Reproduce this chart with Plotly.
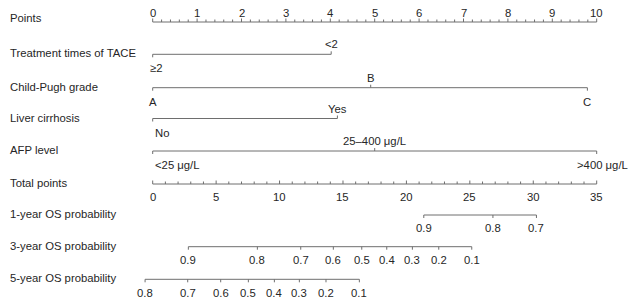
import plotly.graph_objects as go

# ---------------- data ----------------
points_labels = [0, 1, 2, 3, 4, 5, 6, 7, 8, 9, 10]
points_minor_step = 0.2

tace_levels = ["≥2", "<2"]
tace_points = [0.0, 4.02]

child_levels = ["A", "B", "C"]
child_points = [0.0, 4.91, 9.79]

cirrhosis_levels = ["No", "Yes"]
cirrhosis_points = [0.0, 4.16]

afp_levels = ["<25 μg/L", "25–400 μg/L", ">400 μg/L"]
afp_points = [0.0, 5.0, 10.0]

total_labels = [0, 5, 10, 15, 20, 25, 30, 35]
total_minor_step = 1

os1_probs = ["0.9", "0.8", "0.7"]
os1_total = [21.37, 26.82, 30.25]

os3_probs = ["0.9", "0.8", "0.7", "0.6", "0.5", "0.4", "0.3", "0.2", "0.1"]
os3_total = [2.81, 8.25, 11.67, 14.24, 16.48, 18.45, 20.47, 22.55, 25.15]

os5_probs = ["0.8", "0.7", "0.6", "0.5", "0.4", "0.3", "0.2", "0.1"]
os5_total = [-0.6, 2.76, 5.36, 7.54, 9.59, 11.56, 13.66, 16.29]

row_names = ["Points", "Treatment times of TACE", "Child-Pugh grade", "Liver cirrhosis",
             "AFP level", "Total points", "1-year OS probability",
             "3-year OS probability", "5-year OS probability"]

# ---------------- layout constants ----------------
WIN_W, WIN_H = 640, 301
PAGE_MARGIN = 8            # default body margin of the page
W, H = WIN_W - PAGE_MARGIN, WIN_H - PAGE_MARGIN
ORIGIN = 152.7             # window x of 0 points
PX_PER_POINT = 44.4
TOTAL_PER_POINT = 3.5
row_y = [22, 54.3, 87.7, 118.5, 151, 184, 215, 246.7, 279.3]   # window y of each axis line
LINE_COLOR = "#6e6e6e"
TEXT_COLOR = "#262626"
FONT = "Liberation Sans, Arial, sans-serif"
FS = 11.3

fig = go.Figure()
annotations = []


def add_lines(xs, ys, xaxis="x"):
    fig.add_trace(go.Scatter(x=xs, y=ys, mode="lines", xaxis=xaxis, yaxis="y",
                             line=dict(color=LINE_COLOR, width=1),
                             hoverinfo="skip", showlegend=False))


def text(x, y, s, xref="x", xanchor="center", xshift=0):
    annotations.append(dict(x=x, y=y, xref=xref, yref="y", text=s, showarrow=False,
                            xanchor=xanchor, yanchor="middle", xshift=xshift,
                            font=dict(family=FONT, size=FS, color=TEXT_COLOR)))


# row labels
for name, y in zip(row_names, row_y):
    text(0, y - (4 if name == "Points" else 1), name, xref="paper", xanchor="left")

# Points axis (ticks upward, labels above)
y0 = row_y[0]
n_minor = int(round((points_labels[-1] - points_labels[0]) / points_minor_step))
xs, ys = [points_labels[0], points_labels[-1], None], [y0, y0, None]
for i in range(n_minor + 1):
    v = points_labels[0] + i * points_minor_step
    major = abs(v - round(v)) < 1e-9
    xs += [v, v, None]
    ys += [y0, y0 - (3.5 if major else 2.5), None]
add_lines(xs, ys)
for v in points_labels:
    text(v, y0 - 9.2, str(v))

# predictor rows
preds = [(tace_levels, tace_points), (child_levels, child_points),
         (cirrhosis_levels, cirrhosis_points), (afp_levels, afp_points)]
for r, (levels, pts) in enumerate(preds):
    y = row_y[r + 1]
    xs, ys = [min(pts), max(pts), None], [y, y, None]
    for i, p in enumerate(pts):
        up = (i % 2 == 1)
        xs += [p, p, None]
        ys += [y, y - 3 if up else y + 3, None]
    add_lines(xs, ys)
    for i, (lev, p) in enumerate(zip(levels, pts)):
        up = (i % 2 == 1)
        ty = y - 10 if up else y + 14
        if i == 0 and lev in ("No", "<25 μg/L"):
            text(p, ty, lev, xanchor="left", xshift=0)
        elif lev == ">400 μg/L":
            text(p, ty, lev, xanchor="right", xshift=33)
        elif lev == "≥2":
            text(p, ty, lev, xshift=3)
        else:
            text(p, ty, lev)

# Total points axis (ticks upward, labels below)
y = row_y[5]
xs, ys = [total_labels[0], total_labels[-1], None], [y, y, None]
v = total_labels[0]
while v <= total_labels[-1] + 1e-9:
    major = v in total_labels
    xs += [v, v, None]
    ys += [y, y - (3.5 if major else 2.5), None]
    v += total_minor_step
add_lines(xs, ys, "x2")
for v in total_labels:
    text(v, y + 13, str(v), xref="x2")

# OS probability rows (ticks downward, labels below)
for r, (probs, tot) in zip([6, 7, 8], [(os1_probs, os1_total), (os3_probs, os3_total),
                                       (os5_probs, os5_total)]):
    y = row_y[r]
    xs, ys = [min(tot), max(tot), None], [y, y, None]
    for t in tot:
        xs += [t, t, None]
        ys += [y, y + 3, None]
    add_lines(xs, ys, "x2")
    for pr, t in zip(probs, tot):
        text(t, y + 13.3, pr, xref="x2")

xmin = (PAGE_MARGIN - ORIGIN) / PX_PER_POINT
xmax = (WIN_W - ORIGIN) / PX_PER_POINT
fig.update_layout(
    width=W, height=H, margin=dict(l=0, r=0, t=0, b=0),
    paper_bgcolor="white", plot_bgcolor="white",
    xaxis=dict(range=[xmin, xmax], visible=False, domain=[0, 1]),
    xaxis2=dict(range=[xmin * TOTAL_PER_POINT, xmax * TOTAL_PER_POINT], visible=False,
                overlaying="x", domain=[0, 1]),
    yaxis=dict(range=[WIN_H, PAGE_MARGIN], visible=False, domain=[0, 1]),
    annotations=annotations,
    showlegend=False,
)

fig.write_html("out.html")
